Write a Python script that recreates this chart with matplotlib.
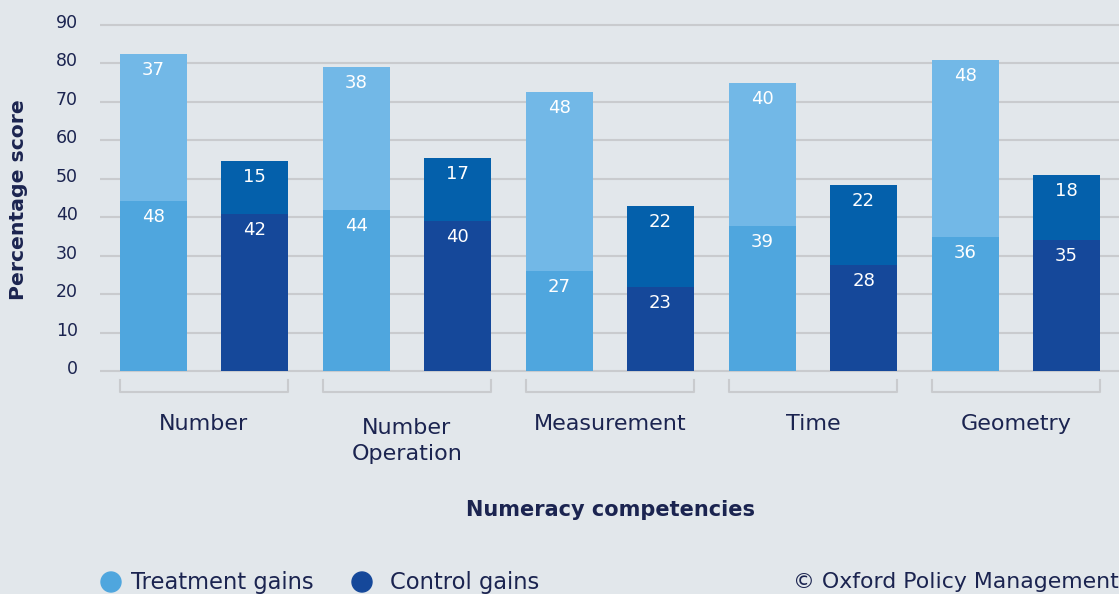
import numpy as np
import matplotlib.pyplot as plt
import matplotlib.transforms as mtransforms
from matplotlib.patches import Ellipse

# categories and values
categories = ['Number', 'Number\nOperation', 'Measurement', 'Time', 'Geometry']
# bar heights as drawn
treat_base = [44.3, 41.9, 26.1, 37.8, 34.9]
treat_gain = [38.2, 37.2, 46.5, 37.1, 46.0]
ctrl_base = [41.0, 39.2, 22.0, 27.7, 34.2]
ctrl_gain = [13.7, 16.3, 21.0, 20.7, 16.8]
# numbers printed on the segments
treat_base_lbl = [48, 44, 27, 39, 36]
treat_gain_lbl = [37, 38, 48, 40, 48]
ctrl_base_lbl = [42, 40, 23, 28, 35]
ctrl_gain_lbl = [15, 17, 22, 22, 18]
yticks = list(range(0, 100, 10))

bg = '#e2e7eb'
c_tb = '#4fa6de'
c_tg = '#72b8e7'
c_cb = '#15489a'
c_cg = '#0460ab'
txt = '#1b2450'
grid_c = '#c9cbce'

plt.rcParams['font.family'] = ['DejaVu Sans']

fig = plt.figure(figsize=(11.19, 5.94), dpi=100, facecolor=bg)
ax = fig.add_axes([100/1119, 0.3357, 1 - 100/1119, 0.6352], facecolor=bg)

x = np.arange(len(categories))
off = 0.249
w = 0.33

ax.bar(x - off, treat_base, w, color=c_tb, zorder=3)
ax.bar(x - off, treat_gain, w, bottom=treat_base, color=c_tg, zorder=3)
ax.bar(x + off, ctrl_base, w, color=c_cb, zorder=3)
ax.bar(x + off, ctrl_gain, w, bottom=ctrl_base, color=c_cg, zorder=3)

# labels inside segments, near the top of each
for i in range(len(categories)):
    tops = [(x[i] - off, treat_base[i], treat_base_lbl[i]),
            (x[i] - off, treat_base[i] + treat_gain[i], treat_gain_lbl[i]),
            (x[i] + off, ctrl_base[i], ctrl_base_lbl[i]),
            (x[i] + off, ctrl_base[i] + ctrl_gain[i], ctrl_gain_lbl[i])]
    for xx, top, lbl in tops:
        ax.text(xx, top - 4.2, str(lbl), ha='center', va='center',
                color='white', fontsize=13, zorder=4)

    # bracket under each group
    l = x[i] - off - w/2
    r = x[i] + off + w/2
    ax.plot([l, l, r, r], [-2.2, -5.2, -5.2, -2.2], color=grid_c, lw=1.5,
            clip_on=False, zorder=2)
    # two-line label sits a touch lower
    ly_cat = -12.0 if '\n' in categories[i] else -11.0
    ax.text(x[i], ly_cat, categories[i], ha='center', va='top', color=txt,
            fontsize=16, linespacing=1.4, clip_on=False)

ax.set_xlim(-0.512, 4.507)
ax.set_ylim(-6, 92)
ax.set_yticks(yticks)
ax.set_yticklabels([str(v) for v in yticks])
ax.yaxis.grid(True, color=grid_c, lw=1.5, zorder=0)
ax.tick_params(axis='y', length=0, pad=16, labelsize=12.5, labelcolor=txt)
ax.tick_params(axis='x', length=0, labelbottom=False)
for lab in ax.get_yticklabels():
    lab.set_transform(lab.get_transform() +
                      mtransforms.ScaledTranslation(0, 4/100, fig.dpi_scale_trans))
for s in ax.spines.values():
    s.set_visible(False)

fig.text(19/1119, 1 - 200/594, 'Percentage score', rotation=90, ha='center',
         va='center', color=txt, fontsize=14.7, fontweight='bold')
fig.text(610/1119, 1 - 510/594, 'Numeracy competencies', ha='center',
         va='center', color=txt, fontsize=15, fontweight='bold')

# legend
ly = 1 - 582/594
fig.add_artist(Ellipse((111/1119, ly), 20/1119, 20/594,
                       transform=fig.transFigure, color=c_tb))
fig.text(131/1119, ly, 'Treatment gains', ha='left', va='center',
         color=txt, fontsize=16.3)
fig.add_artist(Ellipse((362/1119, ly), 20/1119, 20/594,
                       transform=fig.transFigure, color=c_cb))
fig.text(390/1119, ly, 'Control gains', ha='left', va='center',
         color=txt, fontsize=16.3)
fig.text(1.0, ly, '© Oxford Policy Management', ha='right',
         va='center', color=txt, fontsize=15.8)

fig.savefig('out.png', dpi=100, facecolor=bg)
